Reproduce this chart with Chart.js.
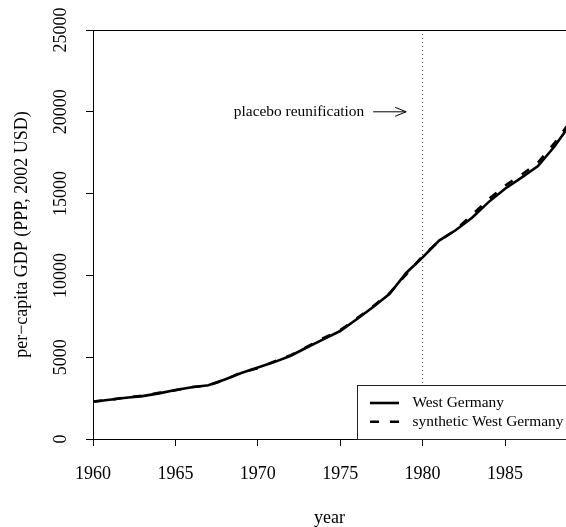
<!DOCTYPE html>
<html lang="en">

<head>
    <meta charset="UTF-8">
    <title>Placebo reunification - West Germany</title>
    <script src="https://cdn.jsdelivr.net/npm/chart.js"></script>
    <style>
        html, body { margin: 0; padding: 0; background: #fff; overflow: hidden; }
        canvas { display: block; }
    </style>
</head>

<body>
    <canvas id="gdp_chart" width="566" height="527"></canvas>
    <script>
        // data
        const years = [1960, 1961, 1962, 1963, 1964, 1965, 1966, 1967, 1968, 1969,
            1970, 1971, 1972, 1973, 1974, 1975, 1976, 1977, 1978, 1979,
            1980, 1981, 1982, 1983, 1984, 1985, 1986, 1987, 1988, 1989];
        const westGermany = [2280, 2400, 2525, 2620, 2790, 3000, 3160, 3290, 3640, 4030,
            4370, 4700, 5090, 5610, 6110, 6600, 7320, 8070, 8880, 10150,
            11100, 12130, 12760, 13520, 14480, 15300, 15980, 16680, 17880, 19300];
        const syntheticWestGermany = [2290, 2390, 2540, 2640, 2820, 2980, 3180, 3270, 3620, 4070,
            4320, 4740, 5120, 5640, 6180, 6650, 7360, 8120, 8920, 10050,
            11180, 12100, 12780, 13700, 14650, 15480, 16150, 16900, 18080, 19450];
        const xTicks = [1960, 1965, 1970, 1975, 1980, 1985];
        const yTicks = [0, 5000, 10000, 15000, 20000, 25000];
        const placeboYear = 1980;
        const arrowFrom = 1977;
        const arrowTo = 1979;
        const noteYear = 1972.5;
        const noteValue = 20000;
        const noteText = 'placebo reunification';

        const serif = "'Liberation Serif', 'Times New Roman', serif";
        Chart.defaults.font.family = serif;
        Chart.defaults.color = '#000';

        const toPoints = (xs, ys) => xs.map((x, i) => ({ x: x, y: ys[i] }));

        // top edge of the box, note + arrow, and the legend box
        const extras = {
            id: 'extras',
            afterDatasetsDraw(chart) {
                const { ctx, chartArea, scales } = chart;
                ctx.save();
                ctx.strokeStyle = '#000';
                ctx.lineWidth = 1;
                ctx.beginPath();
                ctx.moveTo(chartArea.left, Math.round(chartArea.top) + 0.5);
                ctx.lineTo(chartArea.right, Math.round(chartArea.top) + 0.5);
                ctx.stroke();

                // annotation
                const ny = scales.y.getPixelForValue(noteValue);
                ctx.fillStyle = '#000';
                ctx.font = '15.4px ' + serif;
                ctx.textAlign = 'center';
                ctx.textBaseline = 'middle';
                ctx.fillText(noteText, scales.x.getPixelForValue(noteYear), ny);
                const ax0 = scales.x.getPixelForValue(arrowFrom);
                const ax1 = scales.x.getPixelForValue(arrowTo);
                ctx.beginPath();
                ctx.moveTo(ax0, ny);
                ctx.lineTo(ax1, ny);
                ctx.moveTo(ax1 - 11, ny - 4.5);
                ctx.lineTo(ax1, ny);
                ctx.lineTo(ax1 - 11, ny + 4.5);
                ctx.stroke();

                // legend
                const items = chart.data.datasets.filter(ds => !ds.noLegend);
                const boxLeft = 357.5;
                const boxTop = chartArea.bottom - 54;
                ctx.fillStyle = '#fff';
                ctx.fillRect(boxLeft, boxTop, chartArea.right - boxLeft + 10, chartArea.bottom - boxTop);
                ctx.strokeStyle = '#222';
                ctx.strokeRect(boxLeft, Math.round(boxTop) + 0.5, chartArea.right - boxLeft + 10, chartArea.bottom - boxTop);
                items.forEach((ds, i) => {
                    const rowY = boxTop + 18 + i * 18.7;
                    ctx.strokeStyle = ds.borderColor;
                    ctx.lineWidth = ds.borderWidth;
                    ctx.setLineDash(ds.borderDash || []);
                    ctx.beginPath();
                    ctx.moveTo(boxLeft + 12.5, rowY);
                    ctx.lineTo(boxLeft + 41.5, rowY);
                    ctx.stroke();
                    ctx.setLineDash([]);
                    ctx.fillStyle = '#000';
                    ctx.font = '15.4px ' + serif;
                    ctx.textAlign = 'left';
                    ctx.textBaseline = 'middle';
                    ctx.fillText(ds.label, boxLeft + 55, rowY);
                });
                ctx.restore();
            }
        };

        const ctx = document.getElementById('gdp_chart').getContext('2d');
        const chart = new Chart(ctx, {
            type: 'line',
            data: {
                datasets: [
                    {
                        label: 'West Germany',
                        data: toPoints(years, westGermany),
                        borderColor: '#000',
                        borderWidth: 2.6,
                        pointRadius: 0,
                        fill: false
                    },
                    {
                        label: 'synthetic West Germany',
                        data: toPoints(years, syntheticWestGermany),
                        borderColor: '#000',
                        borderWidth: 2.6,
                        borderDash: [9, 11],
                        pointRadius: 0,
                        fill: false
                    },
                    {
                        label: 'placebo',
                        noLegend: true,
                        data: toPoints([placeboYear, placeboYear], [0, yTicks[yTicks.length - 1]]),
                        borderColor: '#444',
                        borderWidth: 1,
                        borderDash: [1, 3],
                        pointRadius: 0,
                        fill: false
                    }
                ]
            },
            options: {
                responsive: false,
                animation: false,
                devicePixelRatio: 1,
                layout: { padding: { top: 30, right: 0, bottom: 0, left: 0 } },
                plugins: {
                    legend: { display: false },
                    tooltip: { enabled: false }
                },
                scales: {
                    x: {
                        type: 'linear',
                        position: 'bottom',
                        min: 1960,
                        max: 1988.7,
                        afterBuildTicks: scale => { scale.ticks = xTicks.map(v => ({ value: v })); },
                        afterFit: scale => {
                            scale.height = 88;
                            scale.paddingLeft = 0;
                            scale.paddingRight = 0;
                        },
                        ticks: {
                            autoSkip: false,
                            maxRotation: 0,
                            padding: 17,
                            font: { size: 18 },
                            callback: v => String(v)
                        },
                        grid: { drawOnChartArea: false, drawTicks: true, tickLength: 7, color: '#000' },
                        border: { display: true, color: '#000', width: 1 },
                        title: {
                            display: true,
                            text: 'year',
                            font: { size: 18, lineHeight: 1 },
                            padding: { top: 0, bottom: 0 }
                        }
                    },
                    y: {
                        type: 'linear',
                        min: 0,
                        max: 25000,
                        afterBuildTicks: scale => { scale.ticks = yTicks.map(v => ({ value: v })); },
                        afterFit: scale => {
                            scale.width = 93;
                            scale.paddingTop = 0;
                            scale.paddingBottom = 0;
                        },
                        ticks: {
                            autoSkip: false,
                            minRotation: 90,
                            maxRotation: 90,
                            crossAlign: 'center',
                            padding: 2.5,
                            font: { size: 18 },
                            callback: v => String(v)
                        },
                        grid: { drawOnChartArea: false, drawTicks: true, tickLength: 7, color: '#000' },
                        border: { display: true, color: '#000', width: 1 },
                        title: {
                            display: true,
                            text: 'per\u2212capita GDP (PPP, 2002 USD)',
                            font: { size: 18 },
                            padding: { top: 11, bottom: 0 }
                        }
                    }
                }
            },
            plugins: [extras]
        });
    </script>
</body>

</html>
